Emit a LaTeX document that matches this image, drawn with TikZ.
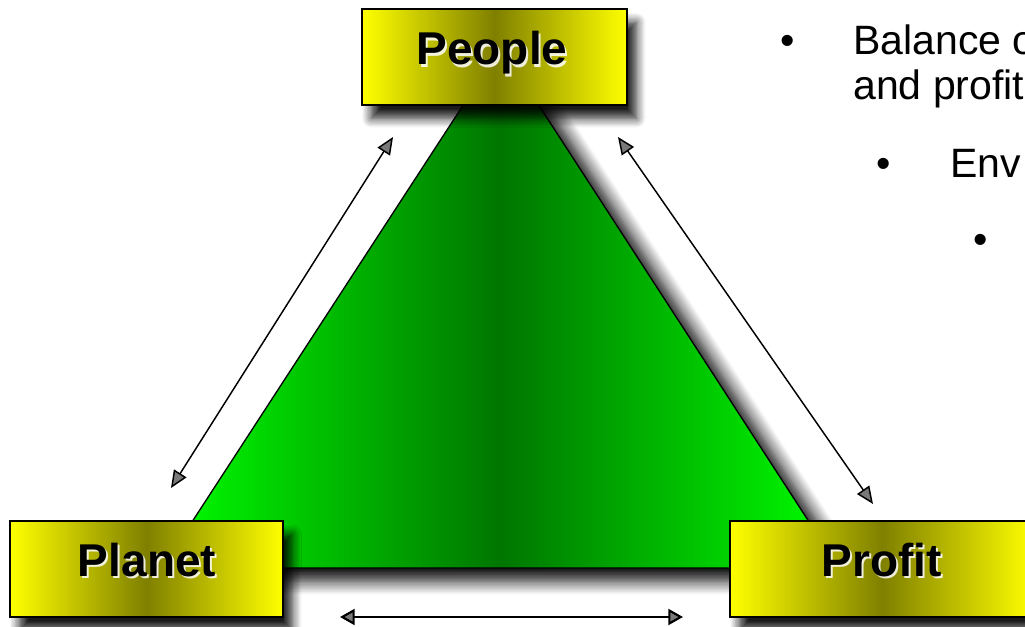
\documentclass[tikz,border=0pt]{standalone}
\usepackage{fontspec}
\setmainfont{Liberation Sans}
\usetikzlibrary{shadows.blur,arrows.meta}
\definecolor{boxyellow}{RGB}{255,255,0}
\definecolor{boxolive}{RGB}{128,128,0}
\definecolor{trilight}{RGB}{0,255,0}
\definecolor{tridark}{RGB}{0,118,0}
\tikzset{
  box/.style={draw=black, line width=1.5pt, left color=boxyellow, right color=boxyellow,
    middle color=boxolive, minimum height=72pt, inner sep=0pt,
    blur shadow={shadow xshift=7pt, shadow yshift=-10pt, shadow blur radius=7pt, shadow opacity=90, shadow blur steps=8}},
  lbl/.style={anchor=base, inner sep=0pt, font=\fontsize{34.5pt}{40pt}\selectfont\bfseries, text=black},
  lblglow/.style={anchor=base, inner sep=0pt, font=\fontsize{34.5pt}{40pt}\selectfont\bfseries, text=white, opacity=0.85},
  bodytext/.style={anchor=base west, inner sep=0pt, font=\fontsize{30.75pt}{34pt}\selectfont, text=black},
  bul/.style={anchor=base, inner sep=0pt, font=\fontsize{30.75pt}{34pt}\selectfont, text=black},
  thinarrow/.style={line width=1.1pt, {Triangle[length=13pt,width=11pt]}-{Triangle[length=13pt,width=11pt]}},
  thickarrow/.style={line width=1.6pt, {Triangle[length=11pt,width=12pt]}-{Triangle[length=11pt,width=12pt]}},
}
\begin{document}
\begin{tikzpicture}[x=0.75pt,y=-0.75pt]
\useasboundingbox (0,0) rectangle (1025,627);
\clip (0,0) rectangle (1025,627);
% triangle
\coordinate (apex) at (501,47);
\coordinate (bl) at (162,568);
\coordinate (br) at (839,568);
\path[draw=black, line width=1pt, left color=trilight, right color=trilight, middle color=tridark,
  blur shadow={shadow xshift=13pt, shadow yshift=-10pt, shadow blur radius=10pt, shadow opacity=95, shadow blur steps=10}]
  (apex) -- (br) -- (bl) -- cycle;
% arrows
\coordinate (la1) at (393,137);
\coordinate (la2) at (171,488);
\coordinate (ra1) at (618,137);
\coordinate (ra2) at (873,504);
\coordinate (ba1) at (340,617);
\coordinate (ba2) at (683,617);
\draw[thinarrow] (la1) -- (la2);
\draw[thinarrow] (ra1) -- (ra2);
\draw[thickarrow] (ba1) -- (ba2);
% boxes
\node[box, minimum width=198.75pt] (people) at (494.5,57) {};
\node[box, minimum width=204.75pt] (planet) at (146.5,569) {};
\node[box, minimum width=228pt] (profit) at (882,569) {};
% labels
\node[lblglow] (peopleglow) at (494,67.5) {People};
\node[lbl] (peopletxt) at (492,65) {People};
\node[lblglow] (planetglow) at (149,578.5) {Planet};
\node[lbl] (planettxt) at (147,576) {Planet};
\node[lblglow] (profitglow) at (884,578.5) {Profit};
\node[lbl] (profittxt) at (882,576) {Profit};
% bullet text
\node[bul] (b1) at (788,55) {•};
\node[bodytext] (t1) at (853,55) {Balance o};
\node[bodytext] (t2) at (853,100) {and profit};
\node[bul] (b2) at (884,178) {•};
\node[bodytext] (t3) at (950,178) {Env};
\node[bul] (b3) at (981,254) {•};
\end{tikzpicture}
\end{document}
